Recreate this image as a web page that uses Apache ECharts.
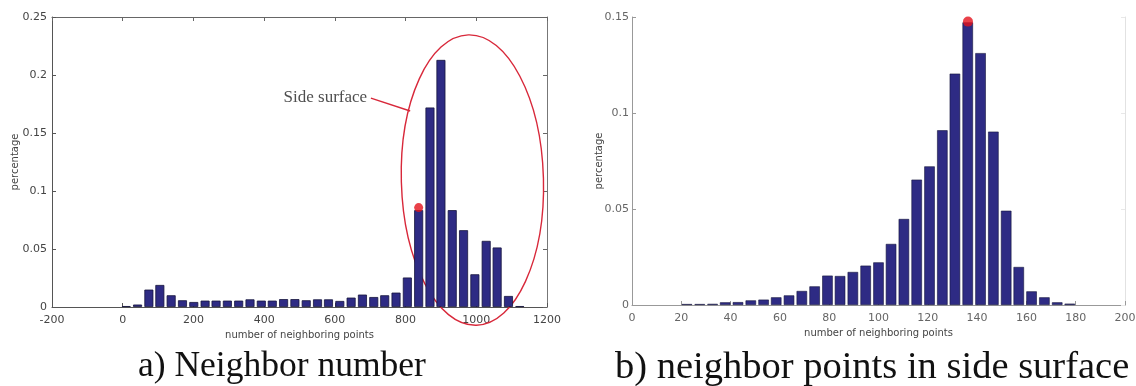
<!DOCTYPE html>
<html>
<head>
<meta charset="utf-8">
<script src="https://cdn.jsdelivr.net/npm/echarts@6/dist/echarts.min.js"></script>
<style>
html,body{margin:0;padding:0;background:#fff;}
#c{width:1136px;height:386px;}
</style>
</head>
<body>
<div id="c"></div>
<script>
// ---- data: chart a) ----
var leftCenters = [10, 42, 74, 105, 137, 169, 201, 233, 264, 296, 328, 360, 392, 423, 455, 487, 519, 551,
                   582, 614, 646, 678, 710, 741, 773, 805, 837, 869, 900, 932, 964, 996, 1028, 1059, 1091, 1123];
var leftValues = [0.0008, 0.0021, 0.015, 0.019, 0.0101, 0.0058, 0.0043, 0.0055, 0.0055, 0.0055, 0.0055, 0.0066,
                  0.0055, 0.0055, 0.0068, 0.0068, 0.0058, 0.0066, 0.0066, 0.0052, 0.0081, 0.0107, 0.0086, 0.0101,
                  0.0124, 0.0254, 0.0835, 0.172, 0.213, 0.0835, 0.0662, 0.0282, 0.057, 0.0513, 0.0095, 0.0008];
var leftMarker = [837, 0.0857];
var leftXTicks = [-200, 0, 200, 400, 600, 800, 1000, 1200];
var leftYTicks = [0, 0.05, 0.1, 0.15, 0.2, 0.25];
var sideLabel = 'Side surface';
var sideLabelPos = [573, 0.181];
var sideEllipse = [989, 0.1094, 201, 0.1252]; // centre x, centre y, radius x, radius y (data units)
var sidePointer = [[702, 0.1800], [813, 0.1690]];

// ---- data: chart b) ----
var rightCenters = [22.3, 27.5, 32.7, 37.8, 43.0, 48.2, 53.4, 58.5, 63.7, 68.9, 74.1, 79.3, 84.4, 89.6, 94.8,
                    100.0, 105.1, 110.3, 115.5, 120.7, 125.9, 131.0, 136.2, 141.4, 146.6, 151.8, 156.9, 162.1,
                    167.3, 172.5, 177.6];
var rightValues = [0.0005, 0.0005, 0.0006, 0.0014, 0.0015, 0.0024, 0.0028, 0.004, 0.005, 0.0073, 0.0097, 0.0153,
                   0.0151, 0.0172, 0.0205, 0.0222, 0.0318, 0.0448, 0.0653, 0.0722, 0.091, 0.1205, 0.1472, 0.1312,
                   0.0903, 0.0491, 0.0198, 0.0071, 0.004, 0.0014, 0.0007];
var rightMarker = [136.3, 0.1476];
var rightXTicks = [0, 20, 40, 60, 80, 100, 120, 140, 160, 180, 200];
var rightYTicks = [0, 0.05, 0.1, 0.15];

var xTitle = 'number of neighboring points';
var yTitle = 'percentage';
var captionA = 'a) Neighbor number';
var captionB = 'b) neighbor points in side surface';

function zip(a, b) { return a.map(function (v, i) { return [v, b[i]]; }); }

var tickFont = 'DejaVu Sans, Liberation Sans, sans-serif';
var barColor = '#2e2b84';
var red = '#d8283a';

function mainX(gi, tks, color, labColor) {
  return {
    type: 'value', gridIndex: gi, position: 'bottom',
    min: tks[0], max: tks[tks.length - 1], interval: tks[1] - tks[0],
    splitLine: { show: false },
    axisLine: { show: true, onZero: false, lineStyle: { color: color, width: 1 } },
    axisTick: { show: true, inside: true, length: 4, lineStyle: { color: color } },
    axisLabel: { color: labColor, fontSize: 11, fontFamily: tickFont, margin: 8,
                 formatter: function (v) { return String(v); } },
    name: xTitle, nameLocation: 'middle', nameGap: 23, nameMoveOverlap: false,
    nameTextStyle: { color: '#444', fontSize: 10, fontFamily: tickFont }
  };
}
function mainY(gi, tks, color, labColor, gap, margin) {
  return {
    type: 'value', gridIndex: gi, position: 'left',
    min: tks[0], max: tks[tks.length - 1], interval: tks[1] - tks[0],
    splitLine: { show: false },
    axisLine: { show: true, onZero: false, lineStyle: { color: color, width: 1 } },
    axisTick: { show: true, inside: true, length: 4, lineStyle: { color: color } },
    axisLabel: { color: labColor, fontSize: 11, fontFamily: tickFont, margin: margin,
                 formatter: function (v) { return String(+v.toFixed(2)); } },
    name: yTitle, nameLocation: 'middle', nameGap: gap, nameRotate: 90, nameMoveOverlap: false,
    nameTextStyle: { color: '#444', fontSize: 10, fontFamily: tickFont }
  };
}
function mirrorX(gi, tks, color) {
  return {
    type: 'value', gridIndex: gi, position: 'top',
    min: tks[0], max: tks[tks.length - 1], interval: tks[1] - tks[0],
    splitLine: { show: false }, axisLabel: { show: false },
    axisLine: { show: true, onZero: false, lineStyle: { color: color, width: 1 } },
    axisTick: { show: true, inside: true, length: 4, lineStyle: { color: color } }
  };
}
function mirrorY(gi, tks, color, tickColor) {
  return {
    type: 'value', gridIndex: gi, position: 'right',
    min: tks[0], max: tks[tks.length - 1], interval: tks[1] - tks[0],
    splitLine: { show: false }, axisLabel: { show: false },
    axisLine: { show: true, onZero: false, lineStyle: { color: color, width: 1 } },
    axisTick: { show: true, inside: true, length: 4, lineStyle: { color: tickColor } }
  };
}

var chart = echarts.init(document.getElementById('c'), null, { renderer: 'canvas' });
chart.setOption({
  backgroundColor: '#fff',
  animation: false,
  grid: [
    { left: 52, top: 17, width: 495, height: 290, containLabel: false, outerBoundsMode: 'none' },
    { left: 632, top: 17, width: 493, height: 288, containLabel: false, outerBoundsMode: 'none' }
  ],
  xAxis: [
    mainX(0, leftXTicks, '#555', '#444'),
    mirrorX(0, leftXTicks, '#666'),
    mainX(1, rightXTicks, '#999', '#666'),
    mirrorX(1, rightXTicks, 'rgba(0,0,0,0)')
  ],
  yAxis: [
    mainY(0, leftYTicks, '#555', '#444', 32, 5),
    mirrorY(0, leftYTicks, '#777', '#666'),
    mainY(1, rightYTicks, '#999', '#666', 28, 3),
    mirrorY(1, rightYTicks, '#e2e2e2', '#e8e8e8')
  ],
  series: [
    {
      type: 'bar', xAxisIndex: 0, yAxisIndex: 0, barWidth: 9,
      data: zip(leftCenters, leftValues),
      itemStyle: { color: barColor, borderColor: '#16153d', borderWidth: 0.8 }
    },
    {
      type: 'bar', xAxisIndex: 2, yAxisIndex: 2, barWidth: 10.5,
      data: zip(rightCenters, rightValues),
      itemStyle: { color: barColor, borderColor: '#16153d', borderWidth: 0.6 }
    },
    {
      type: 'custom', xAxisIndex: 0, yAxisIndex: 0, clip: false, silent: true,
      data: [sideEllipse],
      renderItem: function (params, api) {
        var c = api.coord([api.value(0), api.value(1)]);
        var s = api.size([api.value(2), api.value(3)]);
        return {
          type: 'ellipse',
          originX: c[0], originY: c[1], rotation: 0.028,
          shape: { cx: c[0], cy: c[1], rx: s[0], ry: s[1] },
          style: { fill: 'none', stroke: red, lineWidth: 1.4 }
        };
      }
    },
    {
      type: 'line', xAxisIndex: 0, yAxisIndex: 0, data: sidePointer, symbol: 'none',
      lineStyle: { color: red, width: 1.4 }, silent: true
    },
    {
      type: 'scatter', xAxisIndex: 0, yAxisIndex: 0, data: [sideLabelPos], symbolSize: 0, silent: true,
      label: { show: true, position: 'inside', formatter: sideLabel, color: '#222',
               fontFamily: 'Liberation Serif, Times New Roman, serif', fontSize: 17 }
    },
    {
      type: 'scatter', xAxisIndex: 0, yAxisIndex: 0, data: [leftMarker], symbolSize: 9,
      itemStyle: { color: '#e3121c' }
    },
    {
      type: 'scatter', xAxisIndex: 2, yAxisIndex: 2, data: [rightMarker], symbolSize: 10,
      itemStyle: { color: '#e3121c' }
    }
  ],
  graphic: [
    { type: 'text', left: 138, top: 349, style: { text: captionA, fill: '#111',
      font: '35.5px "Liberation Serif", "Times New Roman", serif' } },
    { type: 'text', left: 615, top: 348, style: { text: captionB, fill: '#111',
      font: '38.5px "Liberation Serif", "Times New Roman", serif' } }
  ]
});
</script>
</body>
</html>
